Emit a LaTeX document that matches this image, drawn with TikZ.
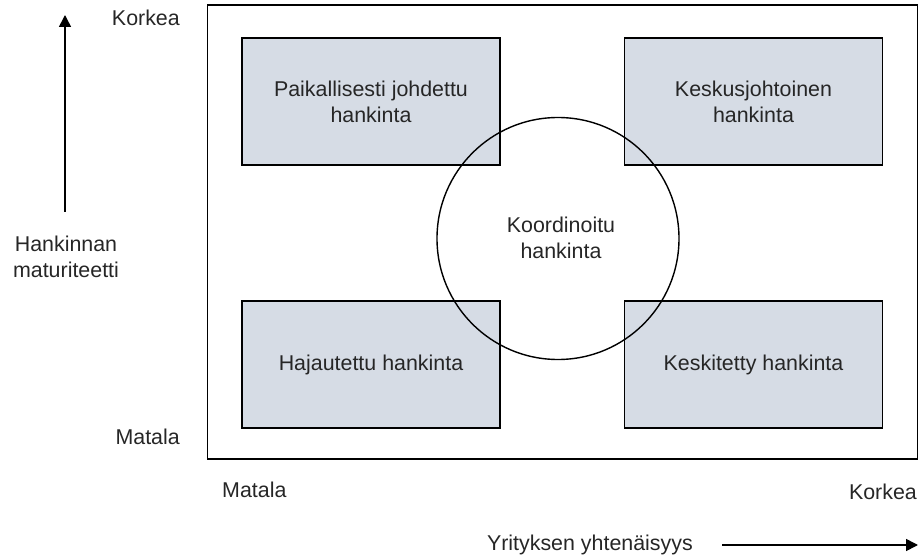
\documentclass[tikz,border=0pt]{standalone}
\usepackage{fontspec}
\setmainfont{Liberation Sans}
\usetikzlibrary{arrows.meta}
\definecolor{boxfill}{HTML}{D6DCE5}
\definecolor{txt}{HTML}{262626}
\begin{document}
\begin{tikzpicture}[x=1pt,y=-1pt,
  every node/.style={font=\fontsize{21.4}{26}\selectfont, text=txt},
  quad/.style={draw=black, line width=1.8pt, fill=boxfill, rectangle,
    minimum width=258pt, minimum height=127pt, inner sep=0pt, align=center},
  lbl/.style={inner sep=0pt, align=center},
  axis/.style={line width=1.6pt, -{Triangle[length=12pt,width=12pt]}}]
\useasboundingbox (0,0) rectangle (919,559);
% frame of the matrix
\node[draw=black, line width=1.8pt, rectangle, inner sep=0pt,
      minimum width=710pt, minimum height=454pt] (frame) at (562.5,232.3) {};
% four quadrants
\node[quad] (tl) at (371,101.5) {Paikallisesti johdettu\\hankinta};
\node[quad] (tr) at (753.5,101.5) {Keskusjohtoinen\\hankinta};
\node[quad] (bl) at (371,364.5) {Hajautettu hankinta};
\node[quad] (br) at (753.5,364.5) {Keskitetty hankinta};
% centre circle
\node[draw=black, line width=1.4pt, circle, minimum size=242pt, inner sep=0pt] (mid) at (558,238.5) {};
\node[lbl] (midtxt) at (561,237.5) {Koordinoitu\\hankinta};
% vertical axis
\node[lbl, anchor=east] (vhigh) at (180,18) {Korkea};
\node[lbl, anchor=east] (vlow) at (180,437) {Matala};
\node[lbl] (vtitle) at (66,257) {Hankinnan\\maturiteetti};
\coordinate (vfrom) at (65,212);
\coordinate (vto) at (65,15);
\draw[axis] (vfrom) -- (vto);
% horizontal axis
\node[lbl, anchor=west] (hlow) at (222,490) {Matala};
\node[lbl, anchor=east] (hhigh) at (917,492) {Korkea};
\node[lbl, anchor=east] (htitle) at (693,545) {Yrityksen yhtenäisyys};
\coordinate (hfrom) at (722,545);
\coordinate (hto) at (918,545);
\draw[axis] (hfrom) -- (hto);
\end{tikzpicture}
\end{document}
